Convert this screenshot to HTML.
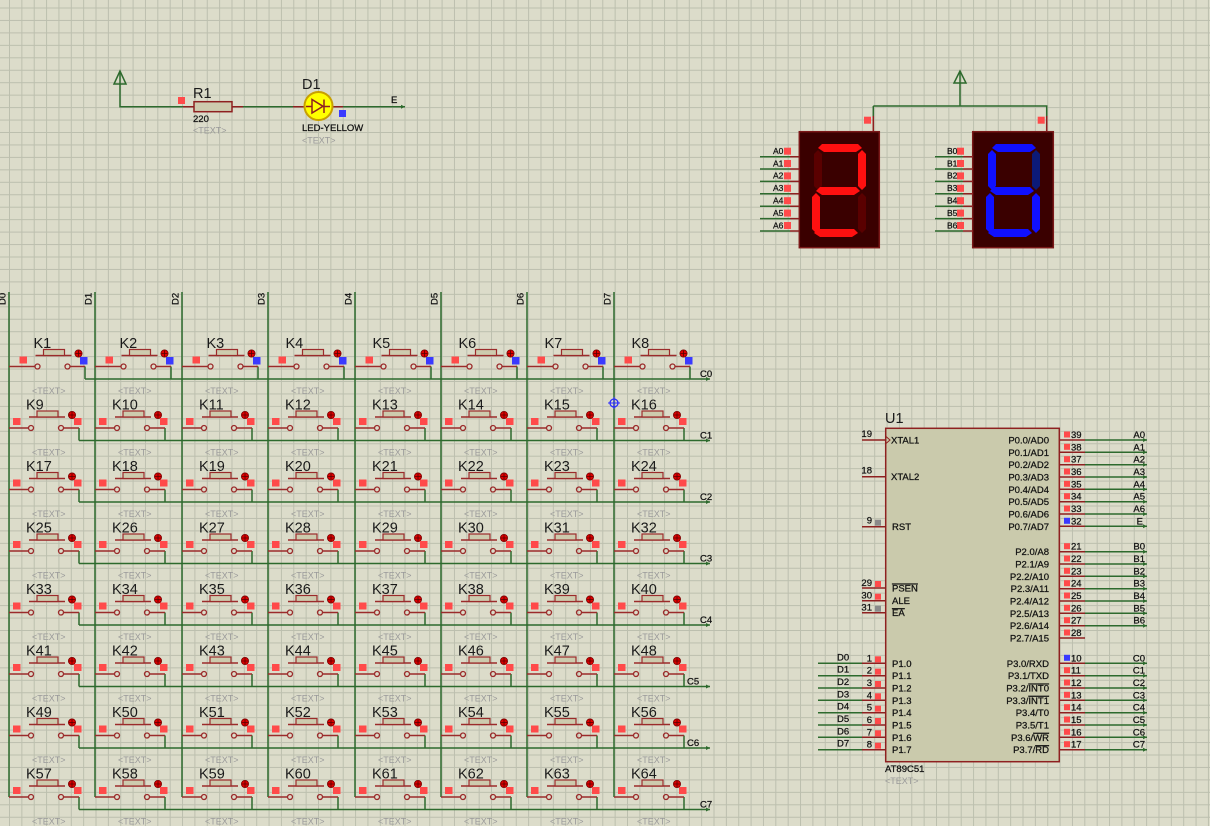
<!DOCTYPE html>
<html><head><meta charset="utf-8"><style>
html,body{margin:0;padding:0;background:#dcdcca}
svg{display:block}
text{font-family:"Liberation Sans",sans-serif}
.k{font-size:14.5px;fill:#1a1a1a}
.t{font-size:9px;fill:#9a9a9a}
.s{font-size:9.5px;fill:#111;stroke:#111;stroke-width:0.25}
.g{stroke:#2d6a2d;stroke-width:1.5;fill:none}
.r{stroke:#8e2020;stroke-width:1.5;fill:none}
.ol{text-decoration:overline}
</style></head><body>
<svg width="1210" height="826" viewBox="0 0 1210 826" xmlns="http://www.w3.org/2000/svg">
<defs>
<pattern id="grid" x="9" y="7.5" width="12.36" height="12.45" patternUnits="userSpaceOnUse">
<path d="M0 0V12.45M0 0H12.36" stroke="#bcbfae" stroke-width="2" fill="none"/>
</pattern>
<g id="swB">
<rect x="4" y="-10" width="7.5" height="7" fill="#ff4a4a"/>
<path d="M0 0H19.5M54.5 0H70M20 -11H56" stroke="#9b2b2b" stroke-width="1.5" fill="none"/>
<circle cx="22" cy="0" r="2.5" stroke="#9b2b2b" stroke-width="1.3" fill="none"/>
<circle cx="52" cy="0" r="2.5" stroke="#9b2b2b" stroke-width="1.3" fill="none"/>
<rect x="28" y="-17" width="21" height="6" fill="#cdcbae" stroke="#9b2b2b" stroke-width="1.2"/>
<circle cx="63" cy="-13" r="3.6" fill="#e00000" stroke="#700" stroke-width="0.8"/>
<path d="M60 -13h6M63 -16v6" stroke="#500" stroke-width="0.8"/>
<rect x="65" y="-10" width="7.5" height="7" fill="#ff4a4a"/>
</g>
<g id="swA">
<rect x="10.5" y="-10" width="7.5" height="7" fill="#ff4a4a"/>
<path d="M0 0H26M61 0H76M26.5 -11H62.5" stroke="#9b2b2b" stroke-width="1.5" fill="none"/>
<circle cx="28.5" cy="0" r="2.5" stroke="#9b2b2b" stroke-width="1.3" fill="none"/>
<circle cx="58.5" cy="0" r="2.5" stroke="#9b2b2b" stroke-width="1.3" fill="none"/>
<rect x="34.5" y="-17" width="21" height="6" fill="#cdcbae" stroke="#9b2b2b" stroke-width="1.2"/>
<circle cx="69.5" cy="-13" r="3.6" fill="#e00000" stroke="#700" stroke-width="0.8"/>
<path d="M66.5 -13h6M69.5 -16v6" stroke="#500" stroke-width="0.8"/>
<rect x="71" y="-9.5" width="7.5" height="7.5" fill="#3a3aff"/>
</g>
<marker id="ar" markerWidth="5" markerHeight="5" refX="4" refY="2.5" orient="auto" markerUnits="userSpaceOnUse"><path d="M0 0.5L4 2.5L0 4.5z" fill="#2d6a2d"/></marker>
</defs>
<rect width="1210" height="826" fill="#dcdcca"/>
<rect width="1210" height="826" fill="url(#grid)"/>

<!-- column wires -->
<path class="g" d="M9 292V797M95 292V797M182 292V797M268 292V797M355 292V797M441 292V797M527 292V797M614 292V797"/>
<g font-size="9.5" class="s">
<text transform="translate(5.5,305) rotate(-90)">D0</text>
<text transform="translate(91.5,305) rotate(-90)">D1</text>
<text transform="translate(178.5,305) rotate(-90)">D2</text>
<text transform="translate(264.5,305) rotate(-90)">D3</text>
<text transform="translate(351.5,305) rotate(-90)">D4</text>
<text transform="translate(437.5,305) rotate(-90)">D5</text>
<text transform="translate(523.5,305) rotate(-90)">D6</text>
<text transform="translate(610.5,305) rotate(-90)">D7</text>
</g>

<!-- row wires -->
<g class="g" marker-end="url(#ar)">
<path d="M85 379H710" marker-end="url(#ar)"/>
<path d="M79 440.5H710" marker-end="url(#ar)"/>
<path d="M79 502H710" marker-end="url(#ar)"/>
<path d="M79 563.5H710" marker-end="url(#ar)"/>
<path d="M79 625H710" marker-end="url(#ar)"/>
<path d="M79 686.5H710" marker-end="url(#ar)"/>
<path d="M79 748H710" marker-end="url(#ar)"/>
<path d="M79 809.5H710" marker-end="url(#ar)"/>
</g>
<path class="g" d="M85 366.5V379M171 366.5V379M258 366.5V379M344 366.5V379M431 366.5V379M517 366.5V379M603 366.5V379M690 366.5V379
M79 428V440.5M165 428V440.5M252 428V440.5M338 428V440.5M425 428V440.5M511 428V440.5M597 428V440.5M684 428V440.5
M79 489.5V502M165 489.5V502M252 489.5V502M338 489.5V502M425 489.5V502M511 489.5V502M597 489.5V502M684 489.5V502
M79 551V563.5M165 551V563.5M252 551V563.5M338 551V563.5M425 551V563.5M511 551V563.5M597 551V563.5M684 551V563.5
M79 612.5V625M165 612.5V625M252 612.5V625M338 612.5V625M425 612.5V625M511 612.5V625M597 612.5V625M684 612.5V625
M79 674V686.5M165 674V686.5M252 674V686.5M338 674V686.5M425 674V686.5M511 674V686.5M597 674V686.5M684 674V686.5
M79 735.5V748M165 735.5V748M252 735.5V748M338 735.5V748M425 735.5V748M511 735.5V748M597 735.5V748M684 735.5V748
M79 797V809.5M165 797V809.5M252 797V809.5M338 797V809.5M425 797V809.5M511 797V809.5M597 797V809.5M684 797V809.5"/>
<g class="s">
<text x="700" y="377">C0</text><text x="700" y="438.5">C1</text><text x="700" y="500">C2</text><text x="700" y="561.5">C3</text>
<text x="700" y="623">C4</text><text x="687" y="684.5">C5</text><text x="687" y="746">C6</text><text x="700" y="807.5">C7</text>
</g>

<!-- switches -->
<use href="#swA" x="9" y="366.5"/><use href="#swA" x="95" y="366.5"/><use href="#swA" x="182" y="366.5"/><use href="#swA" x="268" y="366.5"/><use href="#swA" x="355" y="366.5"/><use href="#swA" x="441" y="366.5"/><use href="#swA" x="527" y="366.5"/><use href="#swA" x="614" y="366.5"/>
<use href="#swB" x="9" y="428"/><use href="#swB" x="95" y="428"/><use href="#swB" x="182" y="428"/><use href="#swB" x="268" y="428"/><use href="#swB" x="355" y="428"/><use href="#swB" x="441" y="428"/><use href="#swB" x="527" y="428"/><use href="#swB" x="614" y="428"/>
<use href="#swB" x="9" y="489.5"/><use href="#swB" x="95" y="489.5"/><use href="#swB" x="182" y="489.5"/><use href="#swB" x="268" y="489.5"/><use href="#swB" x="355" y="489.5"/><use href="#swB" x="441" y="489.5"/><use href="#swB" x="527" y="489.5"/><use href="#swB" x="614" y="489.5"/>
<use href="#swB" x="9" y="551"/><use href="#swB" x="95" y="551"/><use href="#swB" x="182" y="551"/><use href="#swB" x="268" y="551"/><use href="#swB" x="355" y="551"/><use href="#swB" x="441" y="551"/><use href="#swB" x="527" y="551"/><use href="#swB" x="614" y="551"/>
<use href="#swB" x="9" y="612.5"/><use href="#swB" x="95" y="612.5"/><use href="#swB" x="182" y="612.5"/><use href="#swB" x="268" y="612.5"/><use href="#swB" x="355" y="612.5"/><use href="#swB" x="441" y="612.5"/><use href="#swB" x="527" y="612.5"/><use href="#swB" x="614" y="612.5"/>
<use href="#swB" x="9" y="674"/><use href="#swB" x="95" y="674"/><use href="#swB" x="182" y="674"/><use href="#swB" x="268" y="674"/><use href="#swB" x="355" y="674"/><use href="#swB" x="441" y="674"/><use href="#swB" x="527" y="674"/><use href="#swB" x="614" y="674"/>
<use href="#swB" x="9" y="735.5"/><use href="#swB" x="95" y="735.5"/><use href="#swB" x="182" y="735.5"/><use href="#swB" x="268" y="735.5"/><use href="#swB" x="355" y="735.5"/><use href="#swB" x="441" y="735.5"/><use href="#swB" x="527" y="735.5"/><use href="#swB" x="614" y="735.5"/>
<use href="#swB" x="9" y="797"/><use href="#swB" x="95" y="797"/><use href="#swB" x="182" y="797"/><use href="#swB" x="268" y="797"/><use href="#swB" x="355" y="797"/><use href="#swB" x="441" y="797"/><use href="#swB" x="527" y="797"/><use href="#swB" x="614" y="797"/>

<!-- key labels -->
<g class="k">
<text x="33.5" y="348">K1</text><text x="119.5" y="348">K2</text><text x="206.5" y="348">K3</text><text x="285.5" y="348">K4</text><text x="372.5" y="348">K5</text><text x="458.5" y="348">K6</text><text x="544.5" y="348">K7</text><text x="631.5" y="348">K8</text>
<text x="26" y="409.5">K9</text><text x="112" y="409.5">K10</text><text x="199" y="409.5">K11</text><text x="285" y="409.5">K12</text><text x="372" y="409.5">K13</text><text x="458" y="409.5">K14</text><text x="544" y="409.5">K15</text><text x="631" y="409.5">K16</text>
<text x="26" y="471">K17</text><text x="112" y="471">K18</text><text x="199" y="471">K19</text><text x="285" y="471">K20</text><text x="372" y="471">K21</text><text x="458" y="471">K22</text><text x="544" y="471">K23</text><text x="631" y="471">K24</text>
<text x="26" y="532.5">K25</text><text x="112" y="532.5">K26</text><text x="199" y="532.5">K27</text><text x="285" y="532.5">K28</text><text x="372" y="532.5">K29</text><text x="458" y="532.5">K30</text><text x="544" y="532.5">K31</text><text x="631" y="532.5">K32</text>
<text x="26" y="594">K33</text><text x="112" y="594">K34</text><text x="199" y="594">K35</text><text x="285" y="594">K36</text><text x="372" y="594">K37</text><text x="458" y="594">K38</text><text x="544" y="594">K39</text><text x="631" y="594">K40</text>
<text x="26" y="655.5">K41</text><text x="112" y="655.5">K42</text><text x="199" y="655.5">K43</text><text x="285" y="655.5">K44</text><text x="372" y="655.5">K45</text><text x="458" y="655.5">K46</text><text x="544" y="655.5">K47</text><text x="631" y="655.5">K48</text>
<text x="26" y="717">K49</text><text x="112" y="717">K50</text><text x="199" y="717">K51</text><text x="285" y="717">K52</text><text x="372" y="717">K53</text><text x="458" y="717">K54</text><text x="544" y="717">K55</text><text x="631" y="717">K56</text>
<text x="26" y="778.5">K57</text><text x="112" y="778.5">K58</text><text x="199" y="778.5">K59</text><text x="285" y="778.5">K60</text><text x="372" y="778.5">K61</text><text x="458" y="778.5">K62</text><text x="544" y="778.5">K63</text><text x="631" y="778.5">K64</text>
</g>
<g class="t">
<text x="32" y="394">&lt;TEXT&gt;</text><text x="118" y="394">&lt;TEXT&gt;</text><text x="205" y="394">&lt;TEXT&gt;</text><text x="291" y="394">&lt;TEXT&gt;</text><text x="378" y="394">&lt;TEXT&gt;</text><text x="464" y="394">&lt;TEXT&gt;</text><text x="550" y="394">&lt;TEXT&gt;</text><text x="637" y="394">&lt;TEXT&gt;</text>
<text x="32" y="455.5">&lt;TEXT&gt;</text><text x="118" y="455.5">&lt;TEXT&gt;</text><text x="205" y="455.5">&lt;TEXT&gt;</text><text x="291" y="455.5">&lt;TEXT&gt;</text><text x="378" y="455.5">&lt;TEXT&gt;</text><text x="464" y="455.5">&lt;TEXT&gt;</text><text x="550" y="455.5">&lt;TEXT&gt;</text><text x="637" y="455.5">&lt;TEXT&gt;</text>
<text x="32" y="517">&lt;TEXT&gt;</text><text x="118" y="517">&lt;TEXT&gt;</text><text x="205" y="517">&lt;TEXT&gt;</text><text x="291" y="517">&lt;TEXT&gt;</text><text x="378" y="517">&lt;TEXT&gt;</text><text x="464" y="517">&lt;TEXT&gt;</text><text x="550" y="517">&lt;TEXT&gt;</text><text x="637" y="517">&lt;TEXT&gt;</text>
<text x="32" y="578.5">&lt;TEXT&gt;</text><text x="118" y="578.5">&lt;TEXT&gt;</text><text x="205" y="578.5">&lt;TEXT&gt;</text><text x="291" y="578.5">&lt;TEXT&gt;</text><text x="378" y="578.5">&lt;TEXT&gt;</text><text x="464" y="578.5">&lt;TEXT&gt;</text><text x="550" y="578.5">&lt;TEXT&gt;</text><text x="637" y="578.5">&lt;TEXT&gt;</text>
<text x="32" y="640">&lt;TEXT&gt;</text><text x="118" y="640">&lt;TEXT&gt;</text><text x="205" y="640">&lt;TEXT&gt;</text><text x="291" y="640">&lt;TEXT&gt;</text><text x="378" y="640">&lt;TEXT&gt;</text><text x="464" y="640">&lt;TEXT&gt;</text><text x="550" y="640">&lt;TEXT&gt;</text><text x="637" y="640">&lt;TEXT&gt;</text>
<text x="32" y="701.5">&lt;TEXT&gt;</text><text x="118" y="701.5">&lt;TEXT&gt;</text><text x="205" y="701.5">&lt;TEXT&gt;</text><text x="291" y="701.5">&lt;TEXT&gt;</text><text x="378" y="701.5">&lt;TEXT&gt;</text><text x="464" y="701.5">&lt;TEXT&gt;</text><text x="550" y="701.5">&lt;TEXT&gt;</text><text x="637" y="701.5">&lt;TEXT&gt;</text>
<text x="32" y="763">&lt;TEXT&gt;</text><text x="118" y="763">&lt;TEXT&gt;</text><text x="205" y="763">&lt;TEXT&gt;</text><text x="291" y="763">&lt;TEXT&gt;</text><text x="378" y="763">&lt;TEXT&gt;</text><text x="464" y="763">&lt;TEXT&gt;</text><text x="550" y="763">&lt;TEXT&gt;</text><text x="637" y="763">&lt;TEXT&gt;</text>
<text x="32" y="824.5">&lt;TEXT&gt;</text><text x="118" y="824.5">&lt;TEXT&gt;</text><text x="205" y="824.5">&lt;TEXT&gt;</text><text x="291" y="824.5">&lt;TEXT&gt;</text><text x="378" y="824.5">&lt;TEXT&gt;</text><text x="464" y="824.5">&lt;TEXT&gt;</text><text x="550" y="824.5">&lt;TEXT&gt;</text><text x="637" y="824.5">&lt;TEXT&gt;</text>
</g>
<!-- probe marker -->
<circle cx="614" cy="403" r="4" fill="none" stroke="#2a2aff" stroke-width="1.3"/>
<path d="M608 403h12M614 397v12" stroke="#2a2aff" stroke-width="1"/>

<!-- LED circuit -->
<path class="g" d="M120 72V106.7H183M243 106.7H293M343 106.7H405" marker-end="url(#ar)"/>
<path d="M120 71L114 84H126Z" fill="none" stroke="#2d6a2d" stroke-width="1.5"/>
<rect x="178" y="97" width="7" height="7" fill="#ff4a4a"/>
<path class="r" d="M183 106.7H194M232 106.7H243M293 106.7H305M332 106.7H343"/>
<rect x="194" y="101.7" width="38" height="10" fill="#cdcbae" stroke="#8e2020" stroke-width="1.5"/>
<circle cx="318.5" cy="106" r="14" fill="#ffff00" stroke="#c8a000" stroke-width="2"/>
<path d="M312 99.5V113L323 106.3Z" fill="none" stroke="#8e2020" stroke-width="1.5"/>
<path d="M324 99.5V113M306 106.5H312M323 106.5H330" stroke="#8e2020" stroke-width="1.5"/>
<rect x="339" y="110" width="7" height="7" fill="#3a3aff"/>
<text class="k" x="193" y="98">R1</text>
<text class="s" x="193" y="122" font-size="9">220</text>
<text class="t" x="193" y="133.5">&lt;TEXT&gt;</text>
<text class="k" x="302" y="89">D1</text>
<text class="s" x="302" y="131" font-size="9">LED-YELLOW</text>
<text class="t" x="302" y="143.5">&lt;TEXT&gt;</text>
<text class="s" x="391" y="103">E</text>

<!-- 7-seg displays -->
<path class="g" d="M873.3 106V116M873.3 106H1046.7V116M960 71V106"/>
<path d="M960 71L954 83H966Z" fill="none" stroke="#2d6a2d" stroke-width="1.5"/>
<path class="r" d="M873.3 116V131.7M1046.7 116V131.7"/>
<rect x="864" y="116.7" width="7" height="7" fill="#ff4a4a"/>
<rect x="1037.7" y="116.7" width="7" height="7" fill="#ff4a4a"/>
<rect x="799.3" y="131.7" width="80" height="116" fill="#3a0000" stroke="#7a1818" stroke-width="1.5"/>
<rect x="972.7" y="131.7" width="80.6" height="116" fill="#3a0000" stroke="#7a1818" stroke-width="1.5"/>
<!-- digit 2 -->
<g>
<path d="M822 144H858L862 148L856 152H824L818 148Z" fill="#ff1010"/>
<path d="M862 150L866 154V186L862 190L858 186V154Z" fill="#ff1010"/>
<path d="M818 150L822 154V186L818 190L814 186V154Z" fill="#5a0000"/>
<path d="M820 187H856L860 191L854 195H822L816 191Z" fill="#ff1010"/>
<path d="M862 193L866 197V229L862 233L858 229V197Z" fill="#5a0000"/>
<path d="M816 193L820 197V229L816 233L812 229V197Z" fill="#ff1010"/>
<path d="M818 229H854L858 233L852 237H820L814 233Z" fill="#ff1010"/>
</g>
<!-- digit 6 -->
<g>
<path d="M996 144H1032L1036 148L1030 152H998L992 148Z" fill="#1010ff"/>
<path d="M1036 150L1040 154V186L1036 190L1032 186V154Z" fill="#0c1a78"/>
<path d="M992 150L996 154V186L992 190L988 186V154Z" fill="#1010ff"/>
<path d="M994 187H1030L1034 191L1028 195H996L990 191Z" fill="#1010ff"/>
<path d="M1036 193L1040 197V229L1036 233L1032 229V197Z" fill="#1010ff"/>
<path d="M990 193L994 197V229L990 233L986 229V197Z" fill="#1010ff"/>
<path d="M992 229H1028L1032 233L1026 237H994L988 233Z" fill="#1010ff"/>
</g>
<!-- display pins -->
<path class="g" d="M760 156.7H790M760 169H790M760 181.4H790M760 193.8H790M760 206.2H790M760 218.6H790M760 231H790
M935 156.7H963M935 169H963M935 181.4H963M935 193.8H963M935 206.2H963M935 218.6H963M935 231H963"/>
<path class="r" d="M790 156.7H799M790 169H799M790 181.4H799M790 193.8H799M790 206.2H799M790 218.6H799M790 231H799
M963 156.7H973M963 169H973M963 181.4H973M963 193.8H973M963 206.2H973M963 218.6H973M963 231H973"/>
<g fill="#ff4a4a">
<rect x="784" y="147.7" width="7" height="7"/><rect x="784" y="160" width="7" height="7"/><rect x="784" y="172.4" width="7" height="7"/><rect x="784" y="184.8" width="7" height="7"/><rect x="784" y="197.2" width="7" height="7"/><rect x="784" y="209.6" width="7" height="7"/><rect x="784" y="222" width="7" height="7"/>
<rect x="957" y="147.7" width="7" height="7"/><rect x="957" y="160" width="7" height="7"/><rect x="957" y="172.4" width="7" height="7"/><rect x="957" y="184.8" width="7" height="7"/><rect x="957" y="197.2" width="7" height="7"/><rect x="957" y="209.6" width="7" height="7"/><rect x="957" y="222" width="7" height="7"/>
</g>
<g class="s" font-size="8.5" style="font-size:8.5px">
<text x="773" y="154">A0</text><text x="773" y="166.3">A1</text><text x="773" y="178.7">A2</text><text x="773" y="191.1">A3</text><text x="773" y="203.5">A4</text><text x="773" y="215.9">A5</text><text x="773" y="228.3">A6</text>
<text x="947" y="154">B0</text><text x="947" y="166.3">B1</text><text x="947" y="178.7">B2</text><text x="947" y="191.1">B3</text><text x="947" y="203.5">B4</text><text x="947" y="215.9">B5</text><text x="947" y="228.3">B6</text>
</g>

<!-- U1 chip -->
<rect x="885.7" y="428.3" width="173.6" height="333.4" fill="#cacaac" stroke="#8e2020" stroke-width="1.5"/>
<text class="k" x="885" y="423">U1</text>
<text class="s" x="885" y="772" font-size="9">AT89C51</text>
<text class="t" x="885" y="784">&lt;TEXT&gt;</text>
<!-- left pins -->
<path class="r" d="M862 440H886M862 476.7H886M862 526.7H886M862 588H886M862 600.7H886M862 612.7H886
M862 663.3H886M862 675.7H886M862 688H886M862 700.3H886M862 712.7H886M862 725H886M862 737.3H886M862 749.7H886"/>
<path d="M886 436.5L890 440L886 443.5" fill="none" stroke="#8e2020" stroke-width="1"/>
<path class="g" d="M818 663.3H862M818 675.7H862M818 688H862M818 700.3H862M818 712.7H862M818 725H862M818 737.3H862M818 749.7H862"/>
<g fill="#ff4a4a">
<rect x="875" y="581" width="6" height="6"/><rect x="875" y="593.7" width="6" height="6"/>
<rect x="875" y="656.3" width="6" height="6"/><rect x="875" y="668.7" width="6" height="6"/><rect x="875" y="681" width="6" height="6"/><rect x="875" y="693.3" width="6" height="6"/><rect x="875" y="705.7" width="6" height="6"/><rect x="875" y="718" width="6" height="6"/><rect x="875" y="730.3" width="6" height="6"/><rect x="875" y="742.7" width="6" height="6"/>
</g>
<rect x="875" y="519.7" width="6" height="6" fill="#8a8a8a"/>
<rect x="875" y="605.7" width="6" height="6" fill="#8a8a8a"/>
<g class="s" text-anchor="end">
<text x="872" y="437">19</text><text x="872" y="473.7">18</text><text x="872" y="523.7">9</text>
<text x="872" y="586">29</text><text x="872" y="598.7">30</text><text x="872" y="610.7">31</text>
<text x="872" y="661.3">1</text><text x="872" y="673.7">2</text><text x="872" y="686">3</text><text x="872" y="698.3">4</text><text x="872" y="710.7">5</text><text x="872" y="723">6</text><text x="872" y="735.3">7</text><text x="872" y="747.7">8</text>
</g>
<g class="s">
<text x="837" y="660.3">D0</text><text x="837" y="672.7">D1</text><text x="837" y="685">D2</text><text x="837" y="697.3">D3</text><text x="837" y="709.7">D4</text><text x="837" y="722">D5</text><text x="837" y="734.3">D6</text><text x="837" y="746.7">D7</text>
<text x="891" y="443.5">XTAL1</text><text x="891" y="480.2">XTAL2</text><text x="892" y="530.2">RST</text>
<text x="892" y="591.5" class="s ol">PSEN</text><text x="892" y="604.2">ALE</text><text x="892" y="616.2" class="s ol">EA</text>
<text x="892" y="666.8">P1.0</text><text x="892" y="679.2">P1.1</text><text x="892" y="691.5">P1.2</text><text x="892" y="703.8">P1.3</text><text x="892" y="716.2">P1.4</text><text x="892" y="728.5">P1.5</text><text x="892" y="740.8">P1.6</text><text x="892" y="753.2">P1.7</text>
</g>
<!-- right pins -->
<path class="r" d="M1060 440H1085M1060 452.3H1085M1060 464.7H1085M1060 477H1085M1060 489.3H1085M1060 501.7H1085M1060 514H1085M1060 526.3H1085
M1060 551.7H1085M1060 564H1085M1060 576.3H1085M1060 588.7H1085M1060 601H1085M1060 613.3H1085M1060 625.7H1085M1060 638H1085
M1060 663.3H1085M1060 675.7H1085M1060 688H1085M1060 700.3H1085M1060 712.7H1085M1060 725H1085M1060 737.3H1085M1060 749.7H1085"/>
<g class="g">
<path d="M1085 440H1147" marker-end="url(#ar)"/><path d="M1085 452.3H1147" marker-end="url(#ar)"/><path d="M1085 464.7H1147" marker-end="url(#ar)"/><path d="M1085 477H1147" marker-end="url(#ar)"/><path d="M1085 489.3H1147" marker-end="url(#ar)"/><path d="M1085 501.7H1147" marker-end="url(#ar)"/><path d="M1085 514H1147" marker-end="url(#ar)"/><path d="M1085 526.3H1147" marker-end="url(#ar)"/>
<path d="M1085 551.7H1147" marker-end="url(#ar)"/><path d="M1085 564H1147" marker-end="url(#ar)"/><path d="M1085 576.3H1147" marker-end="url(#ar)"/><path d="M1085 588.7H1147" marker-end="url(#ar)"/><path d="M1085 601H1147" marker-end="url(#ar)"/><path d="M1085 613.3H1147" marker-end="url(#ar)"/><path d="M1085 625.7H1147" marker-end="url(#ar)"/>
<path d="M1085 663.3H1147" marker-end="url(#ar)"/><path d="M1085 675.7H1147" marker-end="url(#ar)"/><path d="M1085 688H1147" marker-end="url(#ar)"/><path d="M1085 700.3H1147" marker-end="url(#ar)"/><path d="M1085 712.7H1147" marker-end="url(#ar)"/><path d="M1085 725H1147" marker-end="url(#ar)"/><path d="M1085 737.3H1147" marker-end="url(#ar)"/><path d="M1085 749.7H1147" marker-end="url(#ar)"/>
</g>
<g fill="#ff4a4a">
<rect x="1064" y="431.5" width="6" height="6"/><rect x="1064" y="443.8" width="6" height="6"/><rect x="1064" y="456.2" width="6" height="6"/><rect x="1064" y="468.5" width="6" height="6"/><rect x="1064" y="480.8" width="6" height="6"/><rect x="1064" y="493.2" width="6" height="6"/><rect x="1064" y="505.5" width="6" height="6"/>
<rect x="1064" y="543.2" width="6" height="6"/><rect x="1064" y="555.5" width="6" height="6"/><rect x="1064" y="567.8" width="6" height="6"/><rect x="1064" y="580.2" width="6" height="6"/><rect x="1064" y="592.5" width="6" height="6"/><rect x="1064" y="604.8" width="6" height="6"/><rect x="1064" y="617.2" width="6" height="6"/><rect x="1064" y="629.5" width="6" height="6"/>
<rect x="1064" y="667.2" width="6" height="6"/><rect x="1064" y="679.5" width="6" height="6"/><rect x="1064" y="691.8" width="6" height="6"/><rect x="1064" y="704.2" width="6" height="6"/><rect x="1064" y="716.5" width="6" height="6"/><rect x="1064" y="728.8" width="6" height="6"/><rect x="1064" y="741.2" width="6" height="6"/>
</g>
<rect x="1064" y="517.8" width="6" height="6" fill="#3a3aff"/>
<rect x="1064" y="654.8" width="6" height="6" fill="#3a3aff"/>
<g class="s">
<text x="1071" y="438">39</text><text x="1071" y="450.3">38</text><text x="1071" y="462.7">37</text><text x="1071" y="475">36</text><text x="1071" y="487.3">35</text><text x="1071" y="499.7">34</text><text x="1071" y="512">33</text><text x="1071" y="524.3">32</text>
<text x="1071" y="549.7">21</text><text x="1071" y="562">22</text><text x="1071" y="574.3">23</text><text x="1071" y="586.7">24</text><text x="1071" y="599">25</text><text x="1071" y="611.3">26</text><text x="1071" y="623.7">27</text><text x="1071" y="636">28</text>
<text x="1071" y="661.3">10</text><text x="1071" y="673.7">11</text><text x="1071" y="686">12</text><text x="1071" y="698.3">13</text><text x="1071" y="710.7">14</text><text x="1071" y="723">15</text><text x="1071" y="735.3">16</text><text x="1071" y="747.7">17</text>
</g>
<g class="s" text-anchor="end">
<text x="1145" y="438">A0</text><text x="1145" y="450.3">A1</text><text x="1145" y="462.7">A2</text><text x="1145" y="475">A3</text><text x="1145" y="487.3">A4</text><text x="1145" y="499.7">A5</text><text x="1145" y="512">A6</text><text x="1143" y="524.3">E</text>
<text x="1145" y="549.7">B0</text><text x="1145" y="562">B1</text><text x="1145" y="574.3">B2</text><text x="1145" y="586.7">B3</text><text x="1145" y="599">B4</text><text x="1145" y="611.3">B5</text><text x="1145" y="623.7">B6</text>
<text x="1145" y="661.3">C0</text><text x="1145" y="673.7">C1</text><text x="1145" y="686">C2</text><text x="1145" y="698.3">C3</text><text x="1145" y="710.7">C4</text><text x="1145" y="723">C5</text><text x="1145" y="735.3">C6</text><text x="1145" y="747.7">C7</text>
<text x="1049" y="443.5">P0.0/AD0</text><text x="1049" y="455.8">P0.1/AD1</text><text x="1049" y="468.2">P0.2/AD2</text><text x="1049" y="480.5">P0.3/AD3</text><text x="1049" y="492.8">P0.4/AD4</text><text x="1049" y="505.2">P0.5/AD5</text><text x="1049" y="517.5">P0.6/AD6</text><text x="1049" y="529.8">P0.7/AD7</text>
<text x="1049" y="555.2">P2.0/A8</text><text x="1049" y="567.5">P2.1/A9</text><text x="1049" y="579.8">P2.2/A10</text><text x="1049" y="592.2">P2.3/A11</text><text x="1049" y="604.5">P2.4/A12</text><text x="1049" y="616.8">P2.5/A13</text><text x="1049" y="629.2">P2.6/A14</text><text x="1049" y="641.5">P2.7/A15</text>
<text x="1049" y="666.8">P3.0/RXD</text><text x="1049" y="679.2">P3.1/TXD</text><text x="1049" y="691.5">P3.2/<tspan class="ol">INT0</tspan></text><text x="1049" y="703.8">P3.3/<tspan class="ol">INT1</tspan></text><text x="1049" y="716.2">P3.4/T0</text><text x="1049" y="728.5">P3.5/T1</text><text x="1049" y="740.8">P3.6/<tspan class="ol">WR</tspan></text><text x="1049" y="753.2">P3.7/<tspan class="ol">RD</tspan></text>
</g>
</svg>
</body></html>
